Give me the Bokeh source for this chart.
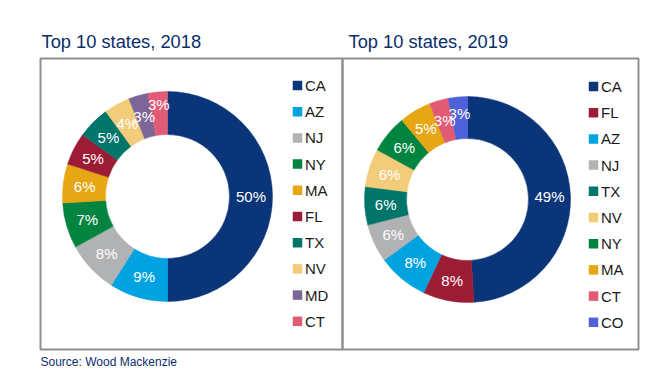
import numpy as np
from bokeh.plotting import figure
from bokeh.models import Range1d, ColumnDataSource
from bokeh.core.properties import value
from bokeh.embed import file_html
from bokeh.resources import INLINE

# ---- data ----
states_2018 = ["CA", "AZ", "NJ", "NY", "MA", "FL", "TX", "NV", "MD", "CT"]
shares_2018 = [50, 9, 8, 7, 6, 5, 5, 4, 3, 3]
states_2019 = ["CA", "FL", "AZ", "NJ", "TX", "NV", "NY", "MA", "CT", "CO"]
shares_2019 = [49, 8, 8, 6, 6, 6, 6, 5, 3, 3]
colors = {
    "CA": "#0a3578", "AZ": "#00a3e0", "NJ": "#b1b2b4", "NY": "#00843f",
    "MA": "#e7a614", "FL": "#9c1c35", "TX": "#00756a", "NV": "#f2cc78",
    "MD": "#7b6697", "CT": "#e15b77", "CO": "#4f61d9",
}
titles = ["Top 10 states, 2018", "Top 10 states, 2019"]
source_text = "Source: Wood Mackenzie"

W, H = 670, 376
FONT = "Liberation Sans"
NAVY = "#0b2d6b"

p = figure(width=W, height=H, x_range=Range1d(0, W), y_range=Range1d(0, H),
           output_backend="svg", toolbar_location=None, min_border=0)
p.axis.visible = False
p.grid.visible = False
p.outline_line_color = None
p.background_fill_color = "white"


def Y(py):
    return H - py


# panel boxes
p.quad(left=[40, 342], right=[342, 638], top=[Y(58), Y(58)], bottom=[Y(349), Y(349)],
       fill_color=None, line_color="#8e8e8e", line_width=2)

# label radius nudges (style only: pushes crowded small-slice labels outward)
label_nudge = [
    {9: 9},
    {9: 4},
]

panels = [
    dict(states=states_2018, shares=shares_2018, cx=167, cy=196, r_out=105, r_in=62,
         title_x=41, leg_x=297, leg_y0=85),
    dict(states=states_2019, shares=shares_2019, cx=467, cy=199, r_out=103, r_in=61,
         title_x=348, leg_x=593, leg_y0=86),
]

for i, pan in enumerate(panels):
    shares = np.array(pan["shares"], dtype=float)
    frac = shares / shares.sum()
    cum = np.concatenate([[0], np.cumsum(frac)])
    start = np.pi / 2 - cum[:-1] * 2 * np.pi
    end = np.pi / 2 - cum[1:] * 2 * np.pi
    mid = (start + end) / 2
    rm = (pan["r_out"] + pan["r_in"]) / 2
    rl = np.array([rm + label_nudge[i].get(k, 0) for k in range(len(shares))])
    src = ColumnDataSource(dict(
        start=start, end=end,
        color=[colors[s] for s in pan["states"]],
        lx=pan["cx"] + rl * np.cos(mid),
        ly=Y(pan["cy"]) + rl * np.sin(mid),
        lab=[f"{int(v)}%" for v in pan["shares"]],
        legx=[pan["leg_x"]] * len(shares),
        legy=[Y(pan["leg_y0"] + k * 26.2) for k in range(len(shares))],
        legtx=[pan["leg_x"] + 7.5] * len(shares),
        name=pan["states"],
    ))
    p.annular_wedge(x=pan["cx"], y=Y(pan["cy"]), inner_radius=pan["r_in"],
                    outer_radius=pan["r_out"], start_angle="start", end_angle="end",
                    direction="clock", fill_color="color", line_color="color",
                    line_width=0.5, source=src)
    p.text(x="lx", y="ly", text="lab", source=src, text_color="white",
           text_font=value(FONT), text_font_size="15px", text_align="center",
           text_baseline="middle")
    p.rect(x="legx", y="legy", width=9.5, height=9.5, fill_color="color",
           line_color=None, source=src)
    p.text(x="legtx", y="legy", text="name", source=src, text_color="#1a1a1a",
           text_font=value(FONT), text_font_size="15px", text_align="left",
           text_baseline="middle")
    p.text(x=[pan["title_x"]], y=[Y(41)], text=[titles[i]], text_color=NAVY,
           text_font=value(FONT), text_font_size="18.3px", text_align="left",
           text_baseline="alphabetic")

p.text(x=[40], y=[Y(361)], text=[source_text], text_color=NAVY,
       text_font=value(FONT), text_font_size="12px", text_align="left",
       text_baseline="middle")

open("out.html", "w").write(file_html(p, INLINE))
